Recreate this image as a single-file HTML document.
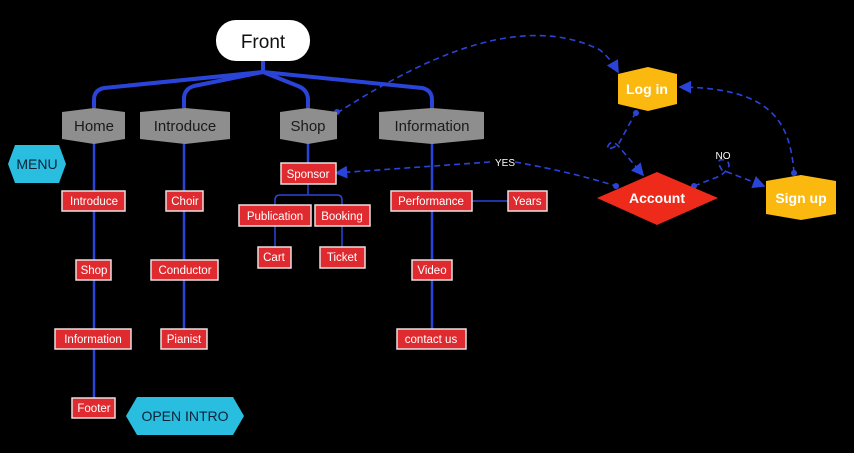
<!DOCTYPE html>
<html><head><meta charset="utf-8"><style>
html,body{margin:0;padding:0;background:#000;width:854px;height:453px;overflow:hidden}
text{font-family:"Liberation Sans",sans-serif}
.r{fill:#df2b30;stroke:#e8e0e0;stroke-width:1.5}
.rt{fill:#fff;font-size:11.5px;text-anchor:middle}
.g{fill:#8e8e8e}
.gt{fill:#1a1a1a;font-size:15px;text-anchor:middle}
.b{stroke:#2a44d8;fill:none}
.d{stroke:#2a44d8;fill:none;stroke-width:1.6;stroke-dasharray:6,4}
</style></head><body>
<svg width="854" height="453" viewBox="0 0 854 453" xmlns="http://www.w3.org/2000/svg">
<defs><marker id="a" markerWidth="8" markerHeight="8" refX="7" refY="4" orient="auto"><path d="M0,0 L8,4 L0,8 z" fill="#2a44d8"/></marker></defs>
<g class="b" stroke-width="4">
<path d="M263,61 V72"/>
<path d="M263,72 L104,88 Q94,90 94,100 V108"/>
<path d="M263,72 L194,86 Q184,89 184,99 V108"/>
<path d="M263,72 L298,86 Q308,90 308,100 V108"/>
<path d="M263,72 L422,88 Q432,90 432,100 V108"/>
</g>
<g class="b" stroke-width="2.5">
<path d="M94,143 V398"/><path d="M184,143 V330"/><path d="M308,143 V163"/><path d="M432,143 V330"/>
</g>
<g class="b" stroke-width="1.5">
<path d="M308,184 V195 H280 Q275,195 275,200 V205 M308,195 H337 Q342,195 342,200 V205"/>
<path d="M275,226 V247 M342,226 V247"/>
<path d="M472,201 H508"/>
</g>
<path class="d" d="M337,113 C420,60 520,10 600,50 Q610,58 618,72" marker-end="url(#a)"/>
<circle cx="337" cy="112" r="3" fill="#2a44d8"/>
<path class="d" d="M490,162 L336,173" marker-end="url(#a)"/>
<path class="d" d="M515,162 C560,170 590,178 616,186"/>
<circle cx="616" cy="186" r="3" fill="#2a44d8"/>
<path class="d" d="M636,112 L618,145 Q605,152 608,146 Q612,138 620,148 L643,175" marker-end="url(#a)"/>
<circle cx="636" cy="113" r="3" fill="#2a44d8"/>
<path class="d" d="M694,186 L720,176 Q735,165 725,160 Q714,158 722,170 L764,186" marker-end="url(#a)"/>
<circle cx="694" cy="186" r="3" fill="#2a44d8"/>
<path class="d" d="M794,173 C790,120 770,88 680,87" marker-end="url(#a)"/>
<circle cx="794" cy="173" r="3" fill="#2a44d8"/>
<text x="505" y="166" fill="#fff" font-size="10" text-anchor="middle">YES</text>
<text x="723" y="159" fill="#fff" font-size="10" text-anchor="middle">NO</text>
<rect x="216" y="20" width="94" height="41" rx="20" fill="#fff"/>
<text x="263" y="48" font-size="19" text-anchor="middle" fill="#111">Front</text>
<polygon class="g" points="62,112 94,108 125,112 125,139 94,144 62,139"/><text class="gt" x="94" y="131">Home</text>
<polygon class="g" points="140,112 185,108 230,112 230,139 185,144 140,139"/><text class="gt" x="185" y="131">Introduce</text>
<polygon class="g" points="280,112 308,108 337,112 337,139 308,144 280,139"/><text class="gt" x="308" y="131">Shop</text>
<polygon class="g" points="379,112 432,108 484,112 484,139 432,144 379,139"/><text class="gt" x="432" y="131">Information</text>
<polygon fill="#29bde0" points="8,164 15,145 59,145 66,164 59,183 15,183"/><text x="37" y="169" font-size="14" text-anchor="middle" fill="#0d2236">MENU</text>
<polygon fill="#29bde0" points="126,416 137,397 233,397 244,416 233,435 137,435"/><text x="185" y="421" font-size="14" text-anchor="middle" fill="#0d2236">OPEN INTRO</text>
<rect class="r" x="62" y="191" width="63" height="20"/><text class="rt" x="94" y="205">Introduce</text>
<rect class="r" x="76" y="260" width="35" height="20"/><text class="rt" x="94" y="274">Shop</text>
<rect class="r" x="55" y="329" width="76" height="20"/><text class="rt" x="93" y="343">Information</text>
<rect class="r" x="72" y="398" width="43" height="20"/><text class="rt" x="94" y="412">Footer</text>
<rect class="r" x="166" y="191" width="37" height="20"/><text class="rt" x="185" y="205">Choir</text>
<rect class="r" x="151" y="260" width="67" height="20"/><text class="rt" x="185" y="274">Conductor</text>
<rect class="r" x="161" y="329" width="46" height="20"/><text class="rt" x="184" y="343">Pianist</text>
<rect class="r" x="281" y="163" width="55" height="21"/><text class="rt" x="308" y="178">Sponsor</text>
<rect class="r" x="239" y="205" width="72" height="21"/><text class="rt" x="275" y="220">Publication</text>
<rect class="r" x="315" y="205" width="55" height="21"/><text class="rt" x="342" y="220">Booking</text>
<rect class="r" x="258" y="247" width="33" height="21"/><text class="rt" x="274" y="261">Cart</text>
<rect class="r" x="320" y="247" width="45" height="21"/><text class="rt" x="342" y="261">Ticket</text>
<rect class="r" x="391" y="191" width="81" height="20"/><text class="rt" x="431" y="205">Performance</text>
<rect class="r" x="508" y="191" width="39" height="20"/><text class="rt" x="527" y="205">Years</text>
<rect class="r" x="412" y="260" width="40" height="20"/><text class="rt" x="432" y="274">Video</text>
<rect class="r" x="397" y="329" width="69" height="20"/><text class="rt" x="431" y="343">contact us</text>
<polygon fill="#fbb80f" points="618,74 648,67 677,74 677,104 648,111 618,104"/><text x="647" y="94" font-size="14" font-weight="bold" fill="#fff" text-anchor="middle">Log in</text>
<polygon fill="#ee2a1a" points="597,198 657,172 718,198 657,225"/><text x="657" y="203" font-size="14" font-weight="bold" fill="#fff" text-anchor="middle">Account</text>
<polygon fill="#fbb80f" points="766,181 801,175 836,181 836,214 801,220 766,214"/><text x="801" y="203" font-size="14" font-weight="bold" fill="#fff" text-anchor="middle">Sign up</text>
</svg>
</body></html>
